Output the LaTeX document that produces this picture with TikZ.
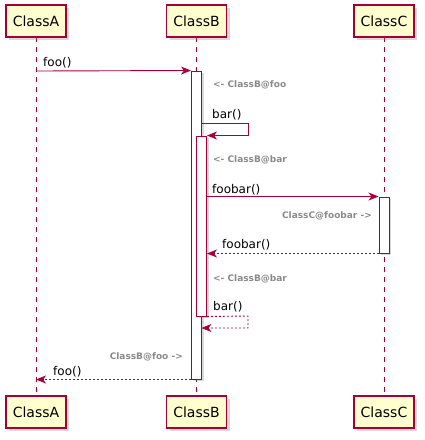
\documentclass[tikz,border=0pt]{standalone}
\usepackage{fontspec}
\setmainfont{DejaVu Sans}
\usetikzlibrary{arrows.meta,shadows}
\definecolor{umlred}{HTML}{A80036}
\definecolor{umlfill}{HTML}{FEFECE}
\definecolor{umlgray}{HTML}{8A8A8A}

\begin{document}
\begin{tikzpicture}[x = 1pt, y = -1pt,
    participant/.style = {draw = umlred, fill = umlfill, line width = 1.2pt, minimum width = 60pt,
        minimum height = 32pt, inner sep = 0pt, font = \fontsize{14}{16}\selectfont,
        drop shadow = {shadow xshift = 3pt, shadow yshift = -3pt, opacity = 0.3}},
    lifeline/.style = {draw = umlred, line width = 0.8pt, dash pattern = on 5pt off 5pt},
    activation/.style = {draw = umlred, fill = white, line width = 1pt, minimum width = 10pt,
        inner sep = 0pt, drop shadow = {shadow xshift = 2pt, shadow yshift = -2pt, opacity = 0.3}},
    msg/.style = {draw = umlred, line width = 0.9pt, -{Stealth[length = 10pt, width = 8pt, inset = 3pt]}},
    ret/.style = {msg, dash pattern = on 2pt off 2pt},
    label/.style = {anchor = base west, inner sep = 0pt, font = \fontsize{12}{14}\selectfont},
    hint/.style = {inner sep = 0pt, text = umlgray, font = \fontsize{9}{11}\selectfont\bfseries}]
    \useasboundingbox (0,0) rectangle (425,440);

    % participants and lifelines
    \foreach \name/\x in {A/36, B/196.5, C/384} {
        \draw[lifeline] (\x,37) -- (\x,396);
        \node[participant] (top\name) at (\x,21) {Class\name};
        \node[participant] (bot\name) at (\x,412) {Class\name};
    }

    % activations
    \node[activation, minimum height = 308pt] (actB1) at (196.5,225) {};
    \node[activation, minimum height = 180pt] (actB2) at (201.5,226) {};
    \node[activation, minimum height = 56pt] (actC) at (384,225) {};

    \coordinate (fooStart) at (36,71);
    \coordinate (barOut) at (248,123);
    \coordinate (barBack) at (248,316);
    \coordinate (barEnd) at (201.5,328);

    % messages
    \draw[msg] (fooStart) -- (actB1.north west);
    \node[label] (fooCall) at (43,66) {foo()};
    \node[hint, anchor = base west] (hintFoo) at (213,87) {<- ClassB@foo};

    \draw[msg] (actB1.east |- barOut) -- (barOut) |- (actB2.north east);
    \node[label] (barCall) at (212,118) {bar()};
    \node[hint, anchor = base west] (hintBar) at (213,162) {<- ClassB@bar};

    \draw[msg] (actB2.east |- actC.north) -- (actC.north west);
    \node[label] (foobarCall) at (212,193) {foobar()};
    \node[hint, anchor = base east] (hintFoobar) at (372,218) {ClassC@foobar ->};
    \draw[ret] (actC.south west) -- (actB2.east |- actC.south);
    \node[label] (foobarRet) at (222,248) {foobar()};

    \node[hint, anchor = base west] (hintBar2) at (213,281) {<- ClassB@bar};
    \node[label] (barRet) at (213,310) {bar()};
    \draw[ret] (actB2.south east) -- (barBack) |- (barEnd);

    \node[hint, anchor = base east] (hintFoo2) at (183,359) {ClassB@foo ->};
    \draw[ret] (actB1.south west) -- (actB1.south west -| fooStart);
    \node[label] (fooRet) at (53,375) {foo()};
\end{tikzpicture}
\end{document}
